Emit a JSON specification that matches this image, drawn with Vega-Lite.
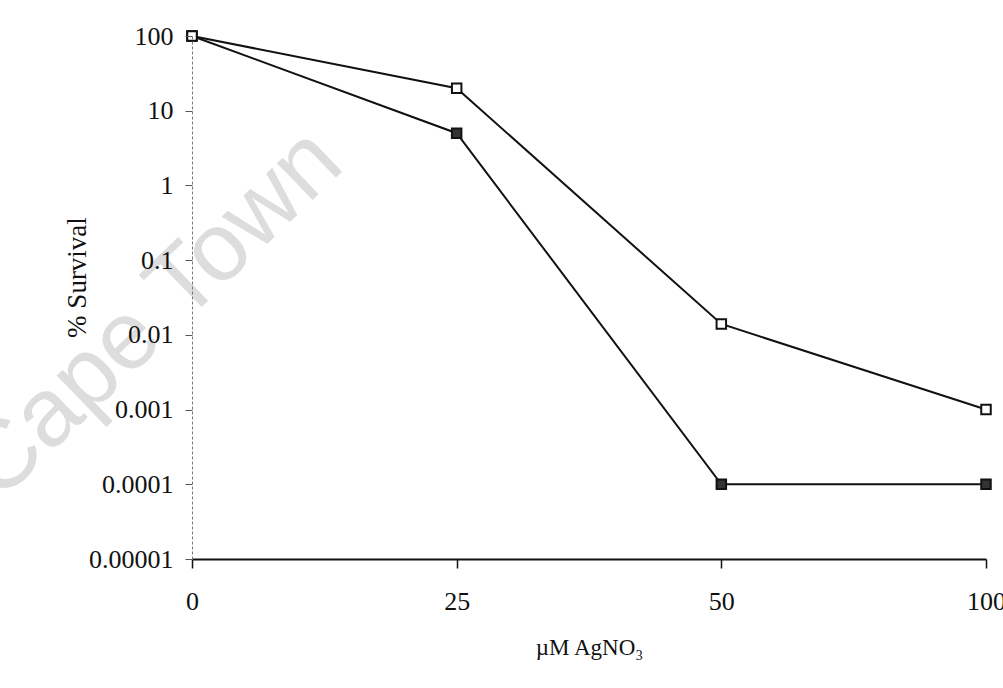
{
  "$schema": "https://vega.github.io/schema/vega-lite/v6.json",
  "autosize": "none",
  "width": 794,
  "height": 523,
  "padding": {"left": 192, "top": 36, "right": 17, "bottom": 129},
  "background": "white",
  "config": {
    "view": {"stroke": null},
    "font": "Liberation Serif"
  },
  "data": {
    "values": [
      {"dose": "0", "series": "filled", "survival": 100},
      {"dose": "25", "series": "filled", "survival": 5},
      {"dose": "50", "series": "filled", "survival": 0.0001},
      {"dose": "100", "series": "filled", "survival": 0.0001},
      {"dose": "0", "series": "open", "survival": 100},
      {"dose": "25", "series": "open", "survival": 20},
      {"dose": "50", "series": "open", "survival": 0.014},
      {"dose": "100", "series": "open", "survival": 0.001}
    ]
  },
  "encoding": {
    "x": {
      "field": "dose",
      "type": "ordinal",
      "sort": ["0", "25", "50", "100"],
      "scale": {"type": "point", "padding": 0},
      "axis": {
        "title": "µM AgNO₃",
        "titleFont": "Liberation Serif",
        "titleFontSize": 23,
        "titleFontWeight": "normal",
        "titleColor": "#111",
        "titleBaseline": "alphabetic",
        "titleY": 95,
        "labelAngle": 0,
        "labelFont": "Liberation Serif",
        "labelFontSize": 26,
        "labelColor": "#111",
        "labelPadding": 20,
        "labelBaseline": "top",
        "domainColor": "#111",
        "domainWidth": 2,
        "tickColor": "#111",
        "tickWidth": 1.5,
        "tickSize": 9,
        "grid": false,
        "zindex": 1
      }
    },
    "y": {
      "field": "survival",
      "type": "quantitative",
      "scale": {"type": "log", "domain": [0.00001, 100], "nice": false},
      "axis": {
        "title": "% Survival",
        "titleFont": "Liberation Serif",
        "titleFontSize": 27,
        "titleFontWeight": "normal",
        "titleColor": "#111",
        "titleAngle": -90,
        "titleBaseline": "middle",
        "titleAlign": "center",
        "titleX": -115,
        "titleY": 241,
        "values": [0.00001, 0.0001, 0.001, 0.01, 0.1, 1, 10, 100],
        "format": ".5~f",
        "labelFont": "Liberation Serif",
        "labelFontSize": 26,
        "labelColor": "#111",
        "labelPadding": 12,
        "domainColor": "#777",
        "domainWidth": 1,
        "domainDash": [3, 2],
        "tickColor": "#555",
        "tickWidth": 1,
        "tickSize": 7,
        "grid": false,
        "zindex": 1
      }
    }
  },
  "layer": [
    {
      "data": {"values": [{"note": "Cape Town", "dose": "0", "survival": 0.061}]},
      "mark": {
        "type": "text",
        "font": "Liberation Sans",
        "fontSize": 97,
        "angle": -44,
        "fill": "#dddddd",
        "align": "center",
        "baseline": "middle",
        "dx": -55
      },
      "encoding": {
        "text": {"field": "note"}
      }
    },
    {
      "mark": {"type": "line", "color": "#111", "strokeWidth": 2},
      "encoding": {"detail": {"field": "series"}}
    },
    {
      "mark": {"type": "point", "shape": "square", "size": 90, "filled": true, "stroke": "#111", "strokeWidth": 2, "opacity": 1},
      "encoding": {
        "fill": {
          "field": "series",
          "type": "nominal",
          "scale": {"domain": ["filled", "open"], "range": ["#333333", "#ffffff"]},
          "legend": null
        }
      }
    }
  ]
}
